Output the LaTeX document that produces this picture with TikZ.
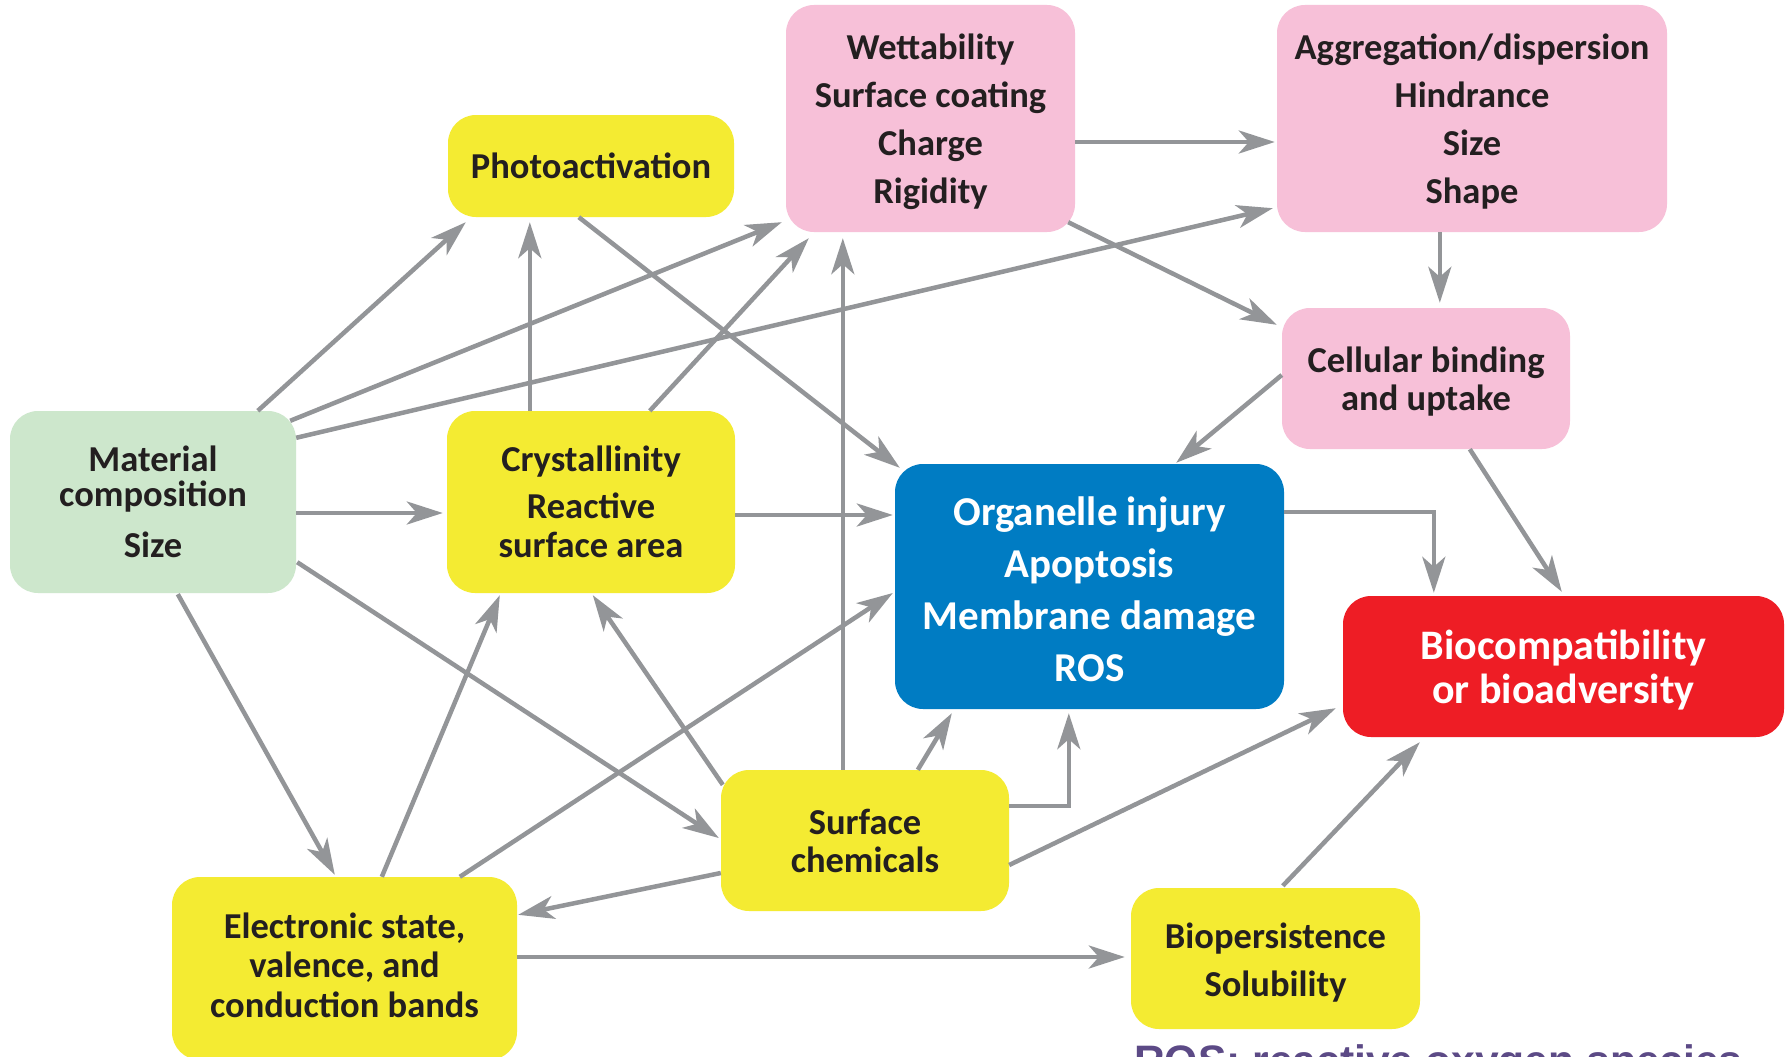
\documentclass[tikz,border=0pt]{standalone}
\usepackage{fontspec}
\setmainfont{Carlito}
\newfontfamily\rosfont{Liberation Sans}
\usetikzlibrary{arrows.meta,calc}
\definecolor{ybox}{HTML}{F4EB32}
\definecolor{pbox}{HTML}{F7C0D8}
\definecolor{gbox}{HTML}{CDE7CC}
\definecolor{bbox}{HTML}{007CC3}
\definecolor{rbox}{HTML}{EE1D25}
\definecolor{lgray}{HTML}{939598}
\definecolor{txt}{HTML}{231F20}
\definecolor{purp}{HTML}{5C4A86}
\newcommand{\dnshift}[1]{\rule{0pt}{\dimexpr\fontcharht\font`l+#1\relax}}
\newcommand{\upshift}[1]{\rule[-#1]{0pt}{0pt}}
\begin{document}
\begin{tikzpicture}[x=1pt,y=-1pt,
  box/.style={rounded corners=28pt, inner sep=0pt, align=center, text=txt,
    font=\fontsize{36.5}{38}\selectfont\bfseries},
  bigtext/.style={text=white, font=\fontsize{41}{44}\selectfont\bfseries},
  conn/.style={draw=lgray, line width=4.5pt,
    -{Stealth[length=36pt,width=23pt,inset=10pt]}},
]
\clip (0,0) rectangle (1791,1057);
\fill[white] (0,0) rectangle (1791,1057);
% nodes
\node[box, fill=gbox, minimum width=286pt, minimum height=182pt] (mat) at (153,502)
  {Material\\[-3pt]composition\\[13pt]Size};
\node[box, fill=ybox, minimum width=286pt, minimum height=102pt] (photo) at (591,166)
  {Photoactivation};
\node[box, fill=pbox, minimum width=289pt, minimum height=227pt] (wett) at (930.5,118.5)
  {\dnshift{7pt}Wettability\\[10pt]Surface coating\\[10pt]Charge\\[10pt]Rigidity};
\node[box, fill=pbox, minimum width=390pt, minimum height=227pt] (agg) at (1472,118.5)
  {\dnshift{7pt}Aggregation/dispersion\\[10pt]Hindrance\\[10pt]Size\\[10pt]Shape};
\node[box, fill=pbox, minimum width=288pt, minimum height=141pt] (cell) at (1426,378.5)
  {\dnshift{7pt}Cellular binding\\and uptake};
\node[box, fill=ybox, minimum width=288pt, minimum height=182pt] (crys) at (591,502)
  {Crystallinity\\[9pt]Reactive\\[1pt]surface area};
\node[box, bigtext, fill=bbox, minimum width=389pt, minimum height=245pt] (blue) at (1089.5,586.5)
  {\dnshift{5pt}Organelle injury\\[8pt]Apoptosis\\[8pt]Membrane damage\\[8pt]ROS};
\node[box, fill=rbox, minimum width=441pt, minimum height=141pt, text=white,
  font=\fontsize{42}{44}\selectfont\bfseries] (red) at (1563.5,666.5)
  {\dnshift{7pt}Biocompatibility\\or bioadversity};
\node[box, fill=ybox, minimum width=288pt, minimum height=141pt] (surf) at (865,840.5)
  {Surface\\chemicals};
\node[box, fill=ybox, minimum width=345pt, minimum height=183pt] (elec) at (344.5,968.5)
  {Electronic state,\\[1.5pt]valence, and\\[1.5pt]conduction bands\upshift{7pt}};
\node[box, fill=ybox, minimum width=289pt, minimum height=141pt] (bio) at (1275.5,958.5)
  {\dnshift{9pt}Biopersistence\\[10pt]Solubility};
\node[anchor=base west, inner sep=0pt, text=purp,
  font=\rosfont\bfseries\fontsize{42.6}{44}\selectfont] (ros) at (1134,1075.5)
  {ROS: reactive oxygen species};
% connectors
\draw[conn] ($(mat.north west)+(248,0)$) -- ($(photo.south west)+(18,5)$);
\draw[conn] ($(mat.north east)+(-6,10)$) -- ($(wett.south west)+(-4,-10)$);
\draw[conn] ($(mat.north east)+(0,27)$) -- ($(agg.south west)+(-4,-24)$);
\draw[conn] ($(mat.east)+(0,11)$) -- ($(crys.west)+(-4,11)$);
\draw[conn] ($(mat.south east)+(1,-31)$) -- ($(surf.west)+(-2,-2.5)$);
\draw[conn] ($(mat.south west)+(168,1)$) -- ($(elec.north west)+(163,-2)$);
\draw[conn] ($(crys.north west)+(83,0)$) -- ($(photo.south west)+(82,5)$);
\draw[conn] ($(crys.north west)+(203,0)$) -- ($(wett.south west)+(23,6)$);
\draw[conn] ($(crys.east)+(0,13)$) -- ($(blue.west)+(-2,-71.5)$);
\draw[conn] ($(photo.south west)+(131,0)$) -- ($(blue.north west)+(5,4)$);
\draw[conn] ($(wett.east)+(0,23.5)$) -- ($(agg.west)+(-2,23.5)$);
\draw[conn] ($(wett.south east)+(-7,-10)$) -- ($(cell.north west)+(-5,17)$);
\draw[conn] ($(surf.north west)+(122,0)$) -- ($(wett.south west)+(57,6)$);
\draw[conn] ($(agg.south west)+(163,0)$) -- ($(cell.north west)+(158,-5)$);
\draw[conn] ($(cell.west)+(0,-3.5)$) -- ($(blue.north east)+(-108,-1)$);
\draw[conn] ($(cell.south west)+(188,0)$) -- ($(red.north west)+(219,-4)$);
\draw[conn] ($(blue.east)+(0,-74.5)$) -| ($(red.north west)+(91,-3)$);
\draw[conn] ($(surf.north west)+(197,0)$) -- ($(blue.south west)+(57,4)$);
\draw[conn] ($(surf.east)+(0,-34.5)$) -| ($(blue.south west)+(174,4)$);
\draw[conn] ($(surf.east)+(0,24.5)$) -- ($(red.south west)+(-7,-29)$);
\draw[conn] ($(surf.north west)+(2,15)$) -- ($(crys.south west)+(146,2)$);
\draw[conn] ($(surf.west)+(0,32.5)$) -- ($(elec.north east)+(1,38)$);
\draw[conn] ($(elec.north west)+(210,0)$) -- ($(crys.south west)+(53,2)$);
\draw[conn] ($(elec.north west)+(288,0)$) -- ($(blue.west)+(-2,6.5)$);
\draw[conn] ($(elec.east)+(0,-11.5)$) -- ($(bio.west)+(-6,-1.5)$);
\draw[conn] ($(bio.north west)+(152,-2)$) -- ($(red.south west)+(77,5)$);
\end{tikzpicture}
\end{document}
